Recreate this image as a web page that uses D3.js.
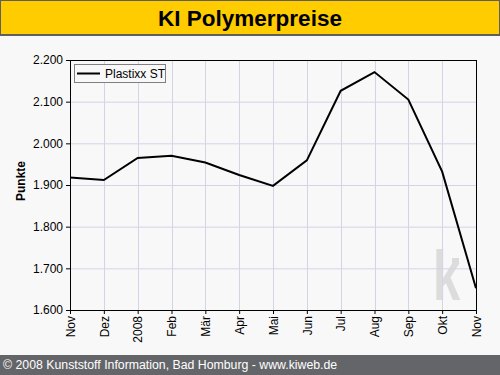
<!DOCTYPE html>
<html>
<head>
<meta charset="utf-8">
<script src="https://cdn.jsdelivr.net/npm/d3@7"></script>
<style>
  body { margin: 0; background: #f8f8f8; }
  svg { display: block; font-family: 'Liberation Sans', Arial, sans-serif; }
  .axis path, .axis line { stroke: #000; }
  .axis text { font-size: 12px; fill: #000; }
</style>
</head>
<body>
<div id="chart"></div>
<script>
const months = ['Nov', 'Dez', '2008', 'Feb', 'Mär', 'Apr', 'Mai', 'Jun', 'Jul', 'Aug', 'Sep', 'Okt', 'Nov'];
const plastixxST = [1918, 1912, 1965, 1970, 1954, 1924, 1898, 1959, 2126, 2171, 2105, 1932, 1652];
const yTicks = [1600, 1700, 1800, 1900, 2000, 2100, 2200];

const width = 500, height = 375;
const margin = { top: 60, right: 24, bottom: 65, left: 70 };
const innerWidth = width - margin.left - margin.right;
const innerHeight = height - margin.top - margin.bottom;

const svg = d3.select('#chart').append('svg')
  .attr('width', width).attr('height', height);

svg.append('rect').attr('width', width).attr('height', height).attr('fill', '#f8f8f8');

// title bar
svg.append('rect').attr('x', 0).attr('y', 0).attr('width', width).attr('height', 36).attr('fill', '#5f5f5f');
svg.append('rect').attr('x', 1).attr('y', 1).attr('width', width - 2).attr('height', 33).attr('fill', '#ffcc00');
svg.append('text')
  .attr('x', width / 2).attr('y', 26)
  .attr('text-anchor', 'middle')
  .attr('font-size', 22.5).attr('font-weight', 'bold')
  .text('KI Polymerpreise');

// footer
svg.append('rect').attr('x', 0).attr('y', 355).attr('width', width).attr('height', 20).attr('fill', '#646569');
svg.append('text')
  .attr('x', 3).attr('y', 369)
  .attr('font-size', 12.3).attr('fill', '#fff')
  .text('© 2008 Kunststoff Information, Bad Homburg - www.kiweb.de');

const chart = svg.append('g').attr('transform', `translate(${margin.left},${margin.top})`);

const x = d3.scaleLinear().domain([0, months.length - 1]).range([0, innerWidth]);
const y = d3.scaleLinear().domain([1600, 2200]).range([innerHeight, 0]);

// watermark
const wm = chart.append('g').attr('fill', '#dcdcdc');
wm.append('text')
  .attr('transform', `translate(${innerWidth - 43},${innerHeight - 10}) scale(0.7,1)`)
  .attr('font-size', 70).attr('font-weight', 'bold')
  .text('k');
wm.append('rect')
  .attr('x', innerWidth - 24).attr('y', innerHeight - 52)
  .attr('width', 7).attr('height', 5);

// grid
chart.append('g')
  .selectAll('line.h')
  .data(yTicks)
  .join('line')
  .attr('x1', 0).attr('x2', innerWidth)
  .attr('y1', d => y(d) + 0.5).attr('y2', d => y(d) + 0.5)
  .attr('stroke', '#d4d4e6');
chart.append('g')
  .selectAll('line.v')
  .data(d3.range(months.length))
  .join('line')
  .attr('y1', 0).attr('y2', innerHeight)
  .attr('x1', d => Math.round(x(d)) + 0.5).attr('x2', d => Math.round(x(d)) + 0.5)
  .attr('stroke', '#d4d4e6');

// frame
chart.append('rect')
  .attr('x', 0.5).attr('y', 0.5)
  .attr('width', innerWidth).attr('height', innerHeight)
  .attr('fill', 'none').attr('stroke', '#000');

// axes
chart.append('g').attr('class', 'axis')
  .call(d3.axisLeft(y).tickValues(yTicks).tickSize(4).tickPadding(3)
    .tickFormat(d => d3.format(',')(d).replace(',', '.')))
  .call(g => g.select('.domain').remove());

chart.append('g').attr('class', 'axis')
  .attr('transform', `translate(0,${innerHeight})`)
  .call(d3.axisBottom(x).tickValues(d3.range(months.length)).tickSize(4).tickFormat(i => months[i]))
  .call(g => g.select('.domain').remove())
  .call(g => g.selectAll('text')
    .attr('transform', 'rotate(-90)')
    .attr('text-anchor', 'end')
    .attr('x', -6).attr('y', 0).attr('dy', '0.35em'));

// y label
svg.append('text')
  .attr('transform', 'translate(25,181) rotate(-90)')
  .attr('text-anchor', 'middle')
  .attr('font-size', 12).attr('font-weight', 'bold')
  .text('Punkte');

// line
chart.append('path')
  .datum(plastixxST)
  .attr('fill', 'none')
  .attr('stroke', '#000')
  .attr('stroke-width', 2)
  .attr('d', d3.line().x((d, i) => x(i)).y(d => y(d)));

// legend
const legend = chart.append('g').attr('transform', 'translate(4,4)');
legend.append('rect')
  .attr('x', 0.5).attr('y', 0.5).attr('width', 91).attr('height', 18)
  .attr('fill', '#f8f8f8').attr('stroke', '#808080');
legend.append('line')
  .attr('x1', 3).attr('x2', 26).attr('y1', 9.5).attr('y2', 9.5)
  .attr('stroke', '#000').attr('stroke-width', 2);
legend.append('text')
  .attr('x', 31).attr('y', 14)
  .attr('font-size', 12)
  .text('Plastixx ST');
</script>
</body>
</html>
